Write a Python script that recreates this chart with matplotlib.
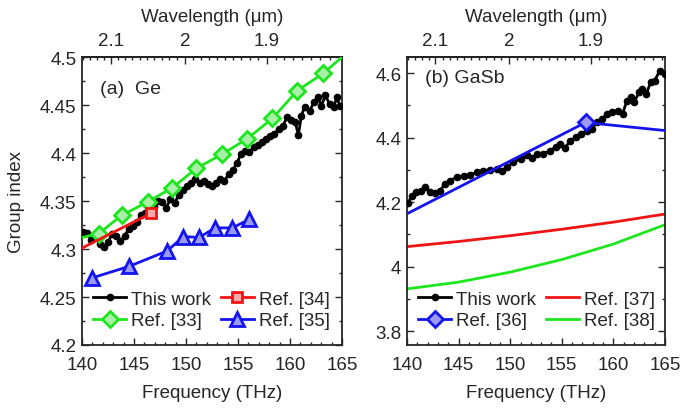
import matplotlib.pyplot as plt
import numpy as np
from matplotlib.ticker import FormatStrFormatter, MultipleLocator, FixedLocator

plt.rcParams["font.family"] = ["Liberation Sans", "DejaVu Sans"]
plt.rcParams["text.color"] = "#262626"
plt.rcParams["axes.labelcolor"] = "#262626"
plt.rcParams["xtick.color"] = "#262626"
plt.rcParams["ytick.color"] = "#262626"

C_THZ_UM = 299.792458

# ---- (a) Ge ----
ge_f = [140.1, 140.5, 140.9, 141.3, 141.7, 142.1, 142.5, 142.9, 143.3, 143.7,
        144.1, 144.5, 144.9, 145.3, 145.7, 146.1, 146.5, 146.9, 147.3, 147.7,
        148.1, 148.5, 148.9, 149.3, 149.7, 150.1, 150.5, 150.9, 151.3, 151.7,
        152.1, 152.5, 152.9, 153.3, 153.7, 154.1, 154.5, 154.9, 155.3, 155.7,
        156.1, 156.5, 156.9, 157.3, 157.7, 158.1, 158.5, 158.9, 159.3, 159.7,
        160.1, 160.5, 160.8, 161.1, 161.4, 161.9, 162.3, 162.7, 163.0, 163.4,
        163.8, 164.2, 164.5, 164.8]
ge_this = [4.318, 4.317, 4.309, 4.312, 4.305, 4.302, 4.307, 4.316, 4.314, 4.308,
           4.314, 4.321, 4.324, 4.328, 4.335, 4.338, 4.341, 4.344, 4.350, 4.349,
           4.343, 4.352, 4.348, 4.356, 4.361, 4.366, 4.369, 4.373, 4.369, 4.371,
           4.368, 4.366, 4.369, 4.373, 4.371, 4.378, 4.382, 4.390, 4.399, 4.402,
           4.401, 4.406, 4.408, 4.411, 4.415, 4.418, 4.420, 4.425, 4.428, 4.437,
           4.434, 4.432, 4.419, 4.439, 4.448, 4.444, 4.453, 4.458, 4.449, 4.460,
           4.451, 4.448, 4.458, 4.449]

ref33_f = [140.0, 141.6, 143.8, 146.3, 148.7, 151.0, 153.5, 155.9, 158.3, 160.7, 163.2, 165.0]
ref33_n = [4.312, 4.316, 4.335, 4.349, 4.364, 4.384, 4.399, 4.415, 4.436, 4.465, 4.483, 4.500]

ref34_f = [140.0, 146.6]
ref34_n = [4.301, 4.337]

ref35_f = [141.0, 144.55, 148.2, 149.75, 151.25, 152.8, 154.45, 156.1]
ref35_n = [4.270, 4.282, 4.298, 4.313, 4.312, 4.322, 4.322, 4.331]

# ---- (b) GaSb ----
gasb_f = [140.1, 140.45, 140.9, 141.4, 141.7, 142.2, 142.7, 143.2, 143.7, 144.2,
          144.8, 145.5, 146.1, 146.8, 147.4, 148.0, 148.7, 149.2, 149.7, 150.3,
          151.0, 151.6, 152.1, 152.6, 153.2, 153.9, 154.4, 154.8, 155.3, 155.8,
          156.4, 156.9, 157.4, 157.9, 158.4, 158.9, 159.4, 159.9, 160.4, 160.9,
          161.3, 161.7, 162.0, 162.5, 162.8, 163.2, 163.6, 164.0, 164.5, 165.0]
gasb_this = [4.196, 4.220, 4.231, 4.236, 4.246, 4.231, 4.229, 4.236, 4.257, 4.267,
             4.277, 4.282, 4.284, 4.293, 4.298, 4.300, 4.303, 4.295, 4.309, 4.324,
             4.334, 4.345, 4.336, 4.350, 4.350, 4.360, 4.371, 4.381, 4.367, 4.391,
             4.402, 4.412, 4.422, 4.427, 4.448, 4.458, 4.474, 4.479, 4.484, 4.474,
             4.515, 4.526, 4.510, 4.541, 4.551, 4.536, 4.572, 4.577, 4.608, 4.598]

ref36_f = [140.0, 157.3, 165.0]
ref36_n = [4.164, 4.447, 4.422]

ref37_f = [140.0, 145.0, 150.0, 155.0, 160.0, 165.0]
ref37_n = [4.062, 4.078, 4.096, 4.116, 4.138, 4.163]

ref38_f = [140.0, 145.0, 150.0, 155.0, 160.0, 165.0]
ref38_n = [3.931, 3.952, 3.983, 4.022, 4.070, 4.130]

BLACK = "#000000"
GREEN = "#1ee61e"
RED = "#f01414"
BLUE = "#1414f0"
FS = 13.5


def f2w(f):
    f = np.asarray(f, dtype=float)
    return C_THZ_UM / np.where(f == 0, 1e-9, f)


def style(ax, ylim, major, minor):
    ax.set_xlim(140, 165)
    ax.set_ylim(*ylim)
    ax.xaxis.set_major_locator(MultipleLocator(5))
    ax.xaxis.set_minor_locator(MultipleLocator(1))
    ax.yaxis.set_major_locator(MultipleLocator(major))
    ax.yaxis.set_minor_locator(MultipleLocator(minor))
    ax.yaxis.set_major_formatter(FormatStrFormatter("%g"))
    ax.tick_params(which="both", direction="in", right=True, labelsize=FS, width=1.0)
    ax.tick_params(which="major", length=5)
    ax.tick_params(which="minor", length=2.5)
    ax.tick_params(axis="x", pad=8)
    ax.tick_params(axis="y", pad=4)
    for s in ax.spines.values():
        s.set_linewidth(1.3)
        s.set_color("#262626")
    ax.set_xlabel("Frequency (THz)", fontsize=FS, labelpad=8)
    top = ax.secondary_xaxis("top", functions=(f2w, f2w))
    top.xaxis.set_major_locator(FixedLocator([2.1, 2.0, 1.9]))
    top.xaxis.set_minor_locator(FixedLocator(np.round(np.arange(1.80, 2.16, 0.01), 2)))
    top.xaxis.set_major_formatter(FormatStrFormatter("%g"))
    top.tick_params(which="both", direction="in", labelsize=FS, width=1.0, pad=6)
    top.tick_params(which="major", length=5)
    top.tick_params(which="minor", length=2.5)
    top.spines["top"].set_linewidth(1.3)
    top.set_xlabel("Wavelength (\u03bcm)", fontsize=FS, labelpad=8)


fig = plt.figure(figsize=(6.85, 4.1), dpi=100)
ax1 = fig.add_axes([0.1197, 0.1561, 0.3796, 0.7024])
ax2 = fig.add_axes([0.5942, 0.1561, 0.3766, 0.7024])

lw = 2.0
leg_kw = dict(ncol=2, loc="lower left", bbox_to_anchor=(0.0, 0.015), frameon=False,
              fontsize=FS, handlelength=1.75, handletextpad=0.25, columnspacing=0.55,
              labelspacing=0.25, borderaxespad=0.2)

h_this, = ax1.plot(ge_f, ge_this, "-o", color=BLACK, lw=lw, ms=4.5, label="This work", zorder=3)
h33, = ax1.plot(ref33_f, ref33_n, "-D", color=GREEN, lw=lw, ms=8.5, mfc="#a8f0a8", mec=GREEN,
                mew=2, markevery=list(range(1, len(ref33_f) - 1)), label="Ref. [33]", zorder=4)
h34, = ax1.plot(ref34_f, ref34_n, "-s", color=RED, lw=lw, ms=7.5, mfc="#f8a8a8", mec=RED,
                mew=2, markevery=[len(ref34_f) - 1], label="Ref. [34]", zorder=4)
h35, = ax1.plot(ref35_f, ref35_n, "-^", color=BLUE, lw=lw, ms=10, mfc="#9a9af0", mec=BLUE,
                mew=2, label="Ref. [35]", zorder=4)
style(ax1, (4.2, 4.5), 0.05, 0.025)
ax1.set_ylabel("Group index", fontsize=FS, labelpad=11)
ax1.text(0.07, 0.89, "(a)  Ge", transform=ax1.transAxes, fontsize=FS + 0.5, va="center")
ax1.legend(handles=[h_this, h33, h34, h35], **leg_kw)

b_this, = ax2.plot(gasb_f, gasb_this, "-o", color=BLACK, lw=lw, ms=4.5, label="This work", zorder=3)
h36, = ax2.plot(ref36_f, ref36_n, "-D", color=BLUE, lw=lw, ms=8.5, mfc="#9a9af0", mec=BLUE,
                mew=2, markevery=[1], label="Ref. [36]", zorder=4)
h37, = ax2.plot(ref37_f, ref37_n, "-", color=RED, lw=lw, label="Ref. [37]")
h38, = ax2.plot(ref38_f, ref38_n, "-", color=GREEN, lw=lw, label="Ref. [38]")
style(ax2, (3.757, 4.65), 0.2, 0.1)
ax2.text(0.07, 0.93, "(b) GaSb", transform=ax2.transAxes, fontsize=FS + 0.5, va="center")
ax2.legend(handles=[b_this, h36, h37, h38], **leg_kw)

fig.savefig("out.png", dpi=100)
